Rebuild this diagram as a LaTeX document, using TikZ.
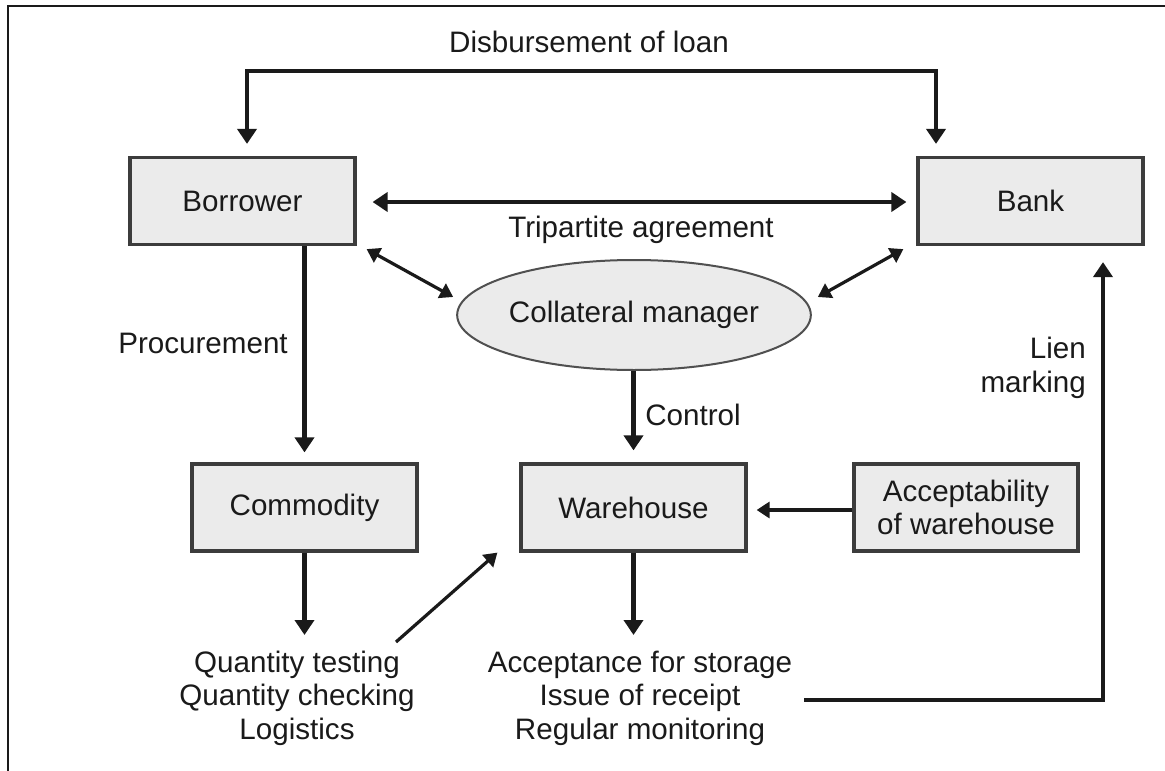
\documentclass[tikz,border=0pt]{standalone}
\usepackage{fontspec}
\setmainfont{Liberation Sans}
\usetikzlibrary{arrows.meta,shapes.geometric}
\definecolor{boxfill}{HTML}{EBEBEB}
\definecolor{boxline}{HTML}{3C3C3C}
\definecolor{ink}{HTML}{1A1A1A}
\begin{document}
\begin{tikzpicture}[x=1pt,y=-1pt,
  every node/.style={font=\fontsize{29.6}{33.5}\selectfont, text=ink},
  block/.style={draw=boxline, fill=boxfill, line width=3.2pt,
    minimum width=225pt, minimum height=87pt, inner sep=0pt, align=center},
  hub/.style={ellipse, draw=boxline!90, fill=boxfill, line width=2pt,
    minimum width=286pt, minimum height=110pt, inner sep=0pt},
  label/.style={inner sep=0pt, align=center},
  flow/.style={draw=ink, line width=4.3pt,
    -{Triangle[length=15pt,width=19pt]}},
  bothflow/.style={draw=ink, line width=4.3pt,
    {Triangle[length=15pt,width=19pt]}-{Triangle[length=15pt,width=19pt]}},
  thinflow/.style={draw=ink, line width=3.2pt,
    -{Triangle[length=13pt,width=16pt]}},
  thinboth/.style={draw=ink, line width=3.2pt,
    {Triangle[length=13pt,width=16pt]}-{Triangle[length=13pt,width=16pt]}}]
\useasboundingbox (0,0) rectangle (1165,771);
\fill[white] (0,0) rectangle (1165,771);

% outer frame (left and top edges)
\draw[line width=2pt, draw=ink] (8,775) -- (8,6) -- (1170,6);

% parties and objects
\node[block] (borrower) at (242.5,201) {Borrower};
\node[block] (bank) at (1030.5,201) {Bank};
\node[hub] (coll) at (634,315) {Collateral manager};
\node[block] (commodity) at (304.5,507.5) {Commodity};
\node[block] (warehouse) at (633.5,507.5) {Warehouse};
\node[block, minimum width=224pt] (accept) at (966,507.5) {Acceptability\\of warehouse};

% activity lists
\node[label] (qty) at (297,698) {Quantity testing\\Quantity checking\\Logistics};
\node[label] (storage) at (640,698) {Acceptance for storage\\Issue of receipt\\Regular monitoring};

% connector labels
\node[label] (disb) at (589,42) {Disbursement of loan};
\node[label] (tri) at (641,230) {Tripartite agreement};
\node[label] (proc) at (203,343) {Procurement};
\node[label] (ctrl) at (693,415) {Control};
\node[label, anchor=east, align=right] (lien) at (1086,368) {Lien\\marking};

% free ends near the activity lists
\coordinate (qtyin) at (304.5,635);
\coordinate (qtyout) at (396,642);
\coordinate (storin) at (633.5,635);
\coordinate (storout) at (804,700);

% disbursement of loan
\draw[bothflow] ([xshift=4.5pt,yshift=12pt]borrower.north)
  |- ([xshift=-94.5pt,yshift=85pt]bank.north)
  -- ([xshift=-94.5pt,yshift=12pt]bank.north);

% tripartite agreement
\draw[bothflow] ([xshift=16pt,yshift=-1pt]borrower.east) -- ([xshift=-10pt,yshift=-1pt]bank.west);
\draw[thinboth] ([xshift=10pt,yshift=-3pt]borrower.south east) -- ([xshift=-3pt,yshift=18pt]coll.west);
\draw[thinboth] ([xshift=6pt,yshift=18pt]coll.east) -- ([xshift=-13pt,yshift=-3pt]bank.south west);

% procurement and control
\draw[flow] (borrower.south -| commodity.north) -- ([yshift=10pt]commodity.north);
\draw[flow] (coll.south -| warehouse.north) -- ([yshift=12pt]warehouse.north);

% warehouse acceptability
\draw[thinflow] ([yshift=-2.5pt]accept.west) -- ([xshift=9pt,yshift=-2.5pt]warehouse.east);

% commodity handling
\draw[flow] (commodity.south) -- (qtyin);
\draw[thinflow] (qtyout) -- ([xshift=-22pt]warehouse.south west);

% storage and lien marking
\draw[flow] (warehouse.south) -- (storin);
\draw[flow] (storout) -| ([xshift=72.5pt,yshift=-16pt]bank.south);
\end{tikzpicture}
\end{document}
